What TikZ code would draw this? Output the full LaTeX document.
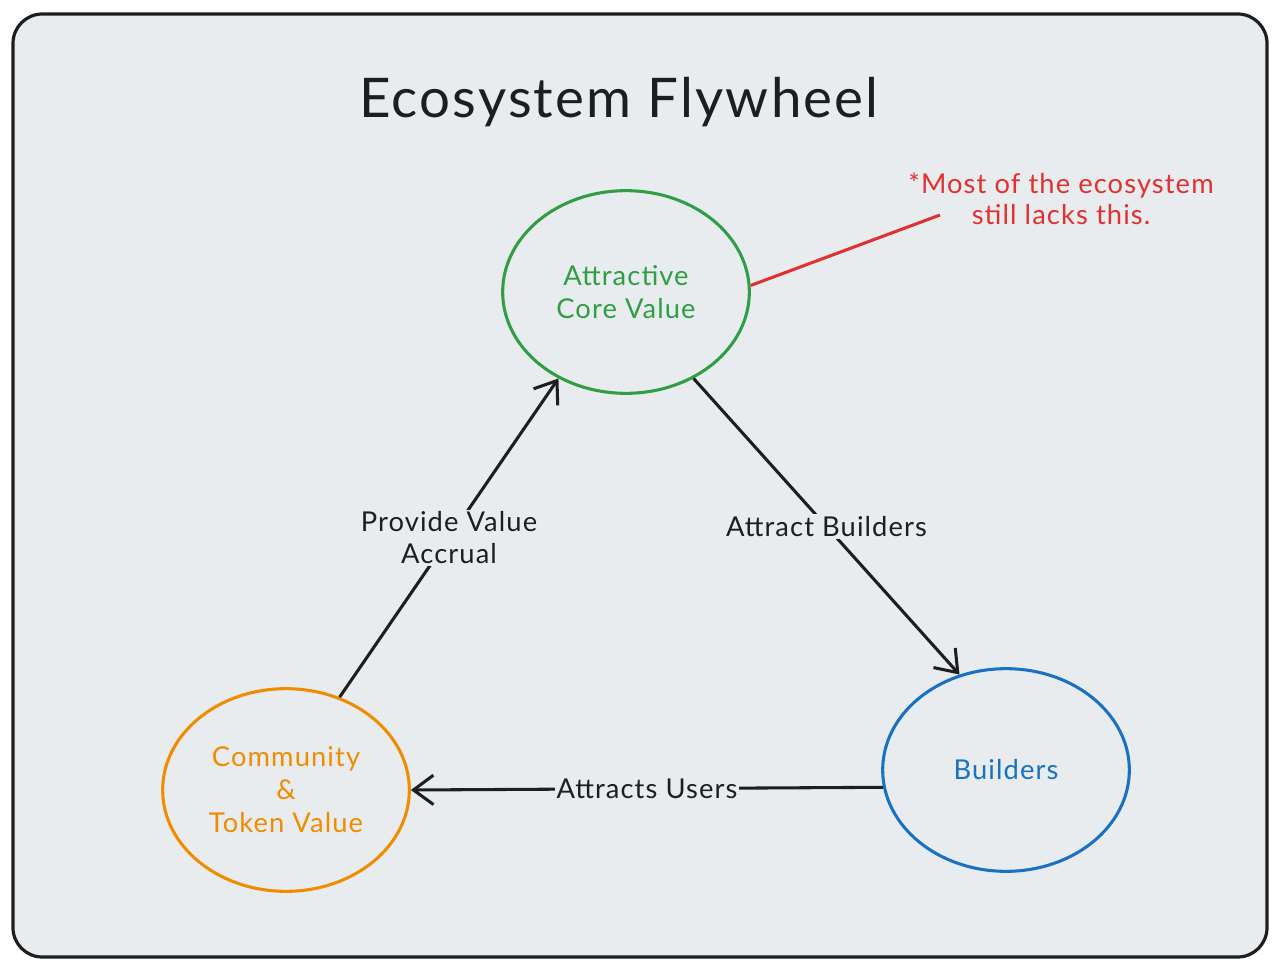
\documentclass[tikz,border=0pt]{standalone}
\usepackage{fontspec}
\setmainfont{Lato}[LetterSpace=4]
\usetikzlibrary{shapes.geometric,arrows.meta}
\definecolor{bg}{HTML}{E9ECEF}
\definecolor{ink}{HTML}{1E1E1E}
\definecolor{cgreen}{HTML}{2F9E44}
\definecolor{cblue}{HTML}{1971C2}
\definecolor{corange}{HTML}{F08C00}
\definecolor{cred}{HTML}{E03131}
\tikzset{
  flow/.style={ellipse, minimum width=185pt, minimum height=152pt, inner sep=0pt,
    line width=2.3pt, align=center, font=\fontsize{20.5}{24.75}\selectfont},
  conn/.style={line width=2.3pt, draw=ink, -{Straight Barb[length=15pt,width=22pt]}},
  lbl/.style={fill=bg, inner sep=1.5pt, text=ink, align=center,
    font=\fontsize{20.5}{24}\selectfont},
}
\begin{document}
\begin{tikzpicture}[x=0.75pt,y=-0.75pt]
\useasboundingbox (0,0) rectangle (1280,970);
\fill[white] (0,0) rectangle (1280,970);
\draw[line width=2.4pt, draw=ink, fill=bg, rounded corners=22pt] (13,14) rectangle (1267,957);

\node[text=ink, font=\fontsize{41}{50}\selectfont] (title) at (619,102) {Ecosystem Flywheel};

\node[flow, draw=cgreen, text=cgreen] (core) at (626,292) {Attractive\\Core Value};
\node[flow, draw=cblue, text=cblue] (build) at (1006,770) {Builders};
\node[flow, draw=corange, text=corange] (comm) at (286,790) {Community\\\&\\Token Value};

\node[text=cred, align=center, font=\fontsize{20.5}{23.5}\selectfont] (note) at (1061,199) {*Most of the ecosystem\\still lacks this.};
\coordinate (noteend) at (940,215);
\draw[line width=2.3pt, draw=cred] (core.3) -- (noteend);

\draw[conn] (core.-52) -- node[lbl] {Attract Builders} (build.116);
\draw[conn] (build.188) -- node[lbl] {Attracts Users} (comm.east);
\draw[conn] (comm.60) -- node[lbl] {Provide Value\\Accrual} (core.232);
\end{tikzpicture}
\end{document}
